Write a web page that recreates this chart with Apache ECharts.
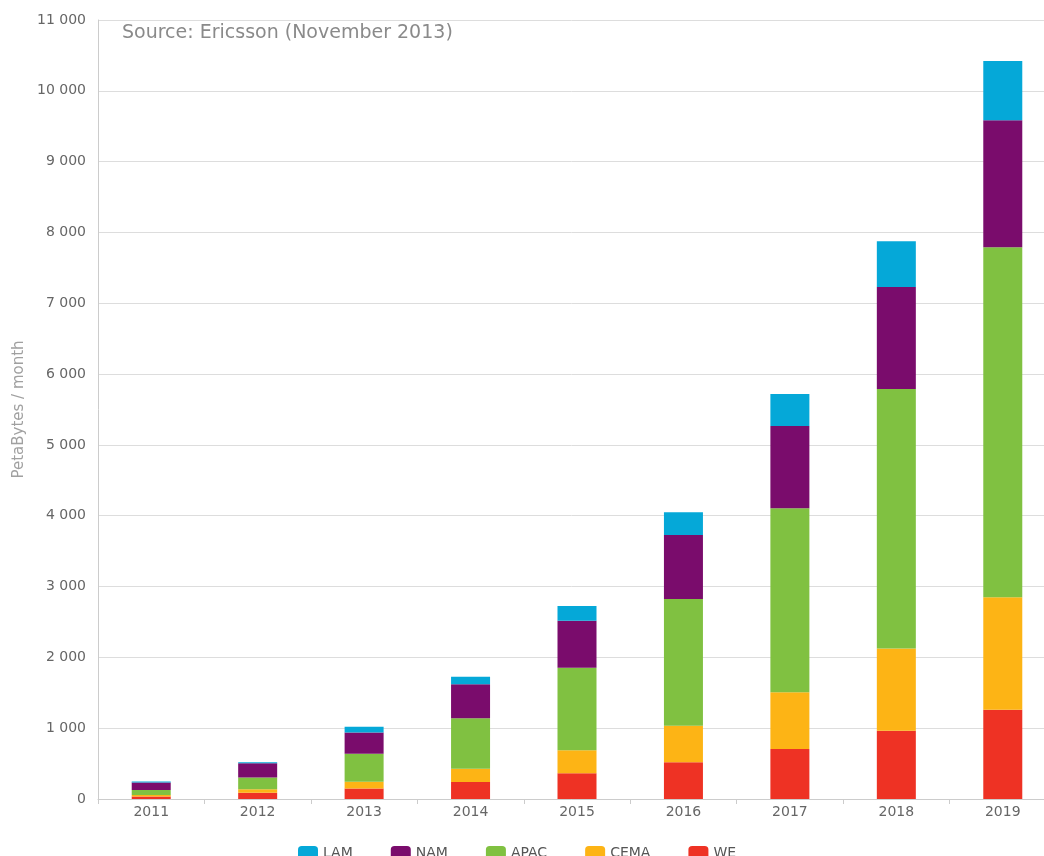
<!DOCTYPE html>
<html>
<head>
<meta charset="utf-8">
<script src="https://cdn.jsdelivr.net/npm/echarts@6/dist/echarts.min.js"></script>
<style>
  html, body { margin: 0; padding: 0; background: #ffffff; }
  #chart { width: 1044px; height: 856px; }
</style>
</head>
<body>
<div id="chart"></div>
<script>
var categories = ['2011', '2012', '2013', '2014', '2015', '2016', '2017', '2018', '2019'];
var WE   = [35, 90, 150, 240, 363, 518, 706, 963, 1259];
var CEMA = [20, 48, 95, 188, 325, 517, 800, 1161, 1589];
var APAC = [72, 164, 395, 711, 1166, 1789, 2598, 3664, 4944];
var NAM  = [105, 204, 300, 481, 664, 904, 1162, 1441, 1793];
var LAM  = [15, 13, 80, 107, 207, 320, 452, 647, 837];
var legendOrder = ['LAM', 'NAM', 'APAC', 'CEMA', 'WE'];

var colors = { WE: '#EE3224', CEMA: '#FDB415', APAC: '#80C141', NAM: '#7A0C6C', LAM: '#05A8D8' };
var FONT = 'DejaVu Sans';

function fmt(v) {
  return String(v).replace(/\B(?=(\d{3})+(?!\d))/g, ' ');
}

function mk(name, data) {
  return {
    name: name, type: 'bar', stack: 'total', data: data, barWidth: 39,
    itemStyle: { color: colors[name] }
  };
}

var chart = echarts.init(document.getElementById('chart'), null, { renderer: 'canvas' });
chart.setOption({
  animation: false,
  backgroundColor: '#ffffff',
  textStyle: { fontFamily: FONT },
  title: {
    text: 'Source: Ericsson (November 2013)',
    left: 117, top: 19,
    textStyle: { fontFamily: FONT, fontSize: 19, fontWeight: 'normal', color: '#8a8a8a' }
  },
  grid: { left: 98, width: 958, top: 20, height: 779, containLabel: false, outerBoundsMode: 'none' },
  legend: {
    data: legendOrder,
    top: 841, left: 293,
    itemWidth: 20, itemHeight: 15, itemGap: 38,
    icon: 'roundRect',
    textStyle: { fontFamily: FONT, fontSize: 14, color: '#555' }
  },
  xAxis: {
    type: 'category',
    data: categories,
    axisLine: { show: true, lineStyle: { color: '#cccccc', width: 1 } },
    axisTick: { show: true, alignWithLabel: false, length: 5, lineStyle: { color: '#cccccc' } },
    axisLabel: { fontFamily: FONT, fontSize: 14, color: '#666', margin: 6 }
  },
  yAxis: {
    type: 'value',
    min: 0, max: 11000, interval: 1000,
    name: 'PetaBytes / month',
    nameLocation: 'middle',
    nameGap: 70,
    nameTextStyle: { fontFamily: FONT, fontSize: 15, color: '#a0a0a0' },
    axisLine: { show: true, lineStyle: { color: '#cccccc', width: 1 } },
    axisTick: { show: false },
    axisLabel: { fontFamily: FONT, fontSize: 14, color: '#666', margin: 12, formatter: fmt },
    splitLine: { show: true, lineStyle: { color: '#dddddd', width: 1 } }
  },
  series: [
    mk('WE', WE),
    mk('CEMA', CEMA),
    mk('APAC', APAC),
    mk('NAM', NAM),
    mk('LAM', LAM)
  ]
});
</script>
</body>
</html>
